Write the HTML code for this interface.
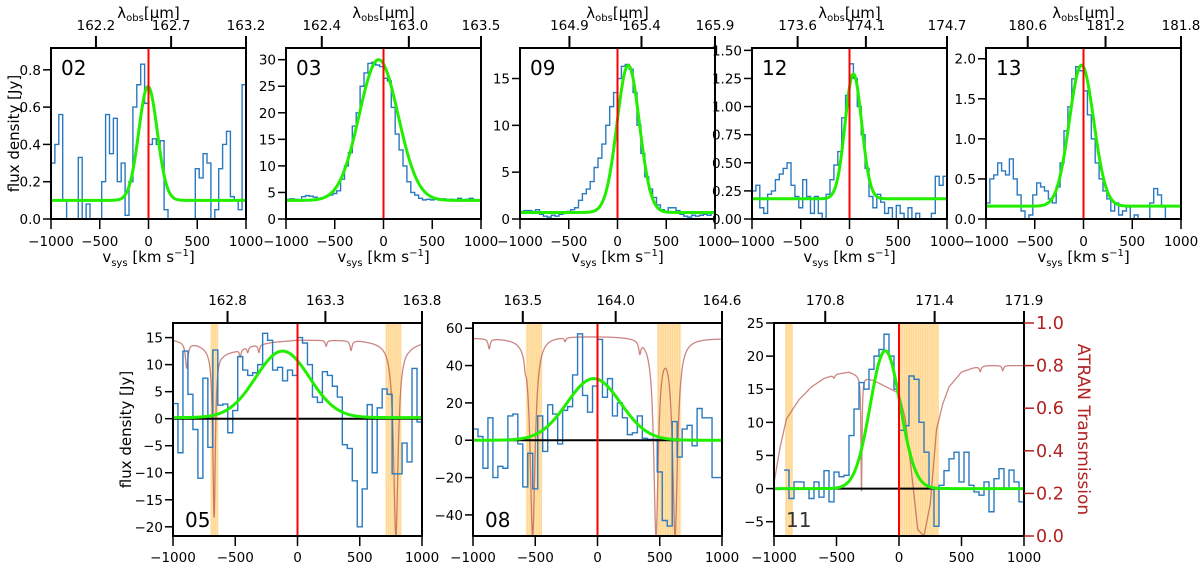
<!DOCTYPE html>
<html><head><meta charset="utf-8"><title>Spectra</title>
<style>
html,body{margin:0;padding:0;background:#fff;}
svg{display:block;font-family:"DejaVu Sans","Liberation Sans",sans-serif;}
</style></head>
<body>
<svg id="fig" width="1200" height="566" viewBox="0 0 1200 566" xmlns="http://www.w3.org/2000/svg"></svg>
<script>
// ---------- data ----------
const binWidth = 40;
const hist02 = [0.3,0.4,0.56,0.1,0,0,0,0.33,0,0.08,0,0,0,0.2,0.56,0.35,0.54,0.2,0.3,0.02,0.2,0.6,0.72,0.83,0.62,0.4,0.43,0.4,0.42,0.05,0,0,0,0,0,0,0,0.27,0.22,0.35,0.3,0,0.05,0.27,0.4,0.47,0.12,0.1,0.05,0.72];
const hist03 = [3.7,3.8,3.7,3.6,4.2,4.4,4.3,4.1,3.9,4.0,4.3,4.5,4.8,5.3,7.5,10,12.5,17.5,20,25,27.5,29.3,29.5,29,28.7,26.5,26,21,16,13,10,7,5,4.5,3.9,3.6,3.7,3.6,3.7,3.6,3.8,3.6,3.7,3.6,3.9,3.6,3.7,3.9,3.6,3.6];
const hist09 = [0.8,0.9,0.9,0.8,1.0,0.5,0.3,0.2,0.4,0.3,0.5,0.6,0.8,1.0,1.2,2,2.7,3.2,4,5.5,6.5,8,10,12,13.5,15,16.3,16.5,16,13.5,10,7,4.5,3.2,2.3,1.5,1.0,0.8,1.2,1.2,0.9,0.5,0.3,0.2,0.4,0.3,0.4,0.5,0.4,0.6];
const hist12 = [0.25,0.3,0.1,0.05,0.22,0.25,0.35,0.4,0.45,0.5,0.3,0.2,0.1,0.35,0.2,0.05,0.2,0.05,0,0.22,0.35,0.48,0.6,0.9,1.1,1.38,1.25,1.0,0.75,0.45,0.2,0.1,0.22,0.15,0.05,0.1,0,0.12,0.05,0,0.1,0,0.05,0,0,0,0.05,0.38,0.3,0.38];
const hist13 = [0.2,0.5,0.55,0.7,0.6,0.55,0.75,0.5,0.3,0.1,0,0.05,0.3,0.45,0.4,0.35,0.25,0.2,0.4,0.7,1.1,1.4,1.75,1.9,1.85,1.6,1.3,1.0,0.7,0.5,0.35,0.25,0.1,0.2,0.05,0.1,0.15,0,0.05,0,0,0,0.2,0.38,0.3,0.15,0,null,null,null];
const hist05 = [2.8,-6.3,12.5,4.5,-2,-11,7.5,-5.3,12.7,2.5,2.7,-2.6,1.5,11.5,9,8,8.5,10,15.8,14.5,9,9.5,7,9,8,15,14,10,4,3,8.7,8,6,4,-4.8,-5.5,-11.5,-20,-13,2.6,-10,2,5.5,4.5,-10.2,-10.2,-4.5,-8,9.3,-0.6];
const hist08 = [6,2,-15,12,-20,-14,-15,13,14,-2,-25,-7,-26,13,-6,19,14,-2,16,18,35,57,24,15,29,54,23,33,13,20,12,3,4,13,1,0.5,0.5,-17,-43,-46,10,-9,6,8,-3,17,12,12,-20,-20];
const hist11 = [null,null,2.8,-1.5,1,1,0,-1.5,1,-1.3,2.7,-2,2.5,1.8,2,8,12,16,15,18,20,21,23.3,20,15,8.8,9.5,17,16.5,10,5.5,0,-5.7,0.5,2.7,4.5,5.5,1,5.5,0.5,-0.5,-1,1,-3.5,1.5,3,0,2.8,1,-2];

// gaussian fits: [baseline, amplitude, centre, sigma]
const fit02 = [0.1, 0.61, -5, 95];
const fit03 = [3.5, 26.5, -50, 200];
const fit09 = [0.7, 15.7, 110, 115];
const fit12 = [0.18, 1.11, 40, 85];
const fit13 = [0.16, 1.76, -20, 125];
const fit05 = [0.2, 12.3, -120, 215];
const fit08 = [0, 33, -30, 215];
const fit11 = [0, 20.8, -110, 120];

// ATRAN transmission: continuum sample points and absorption dips
const trans05V = [-1000,-900,-800,-700,-600,-500,-400,-300,-200,0,500,700,900,1000];
const trans05T = [0.92,0.91,0.9,0.88,0.86,0.87,0.89,0.9,0.91,0.92,0.92,0.91,0.9,0.91];
const dip05C = [-890,-670,-460,-400,-310,230,430,790];
const dip05D = [0.13,0.9,0.04,0.03,0.04,0.03,0.05,1.0];
const dip05W = [12,12,8,8,8,8,10,22];
const trans08V = [-1000,-600,-400,0,300,1000];
const trans08T = [0.93,0.93,0.94,0.94,0.94,0.93];
const dip08C = [-870,-521,-580,-260,340,470,623];
const dip08D = [0.05,1.0,0.05,0.02,0.06,1.0,1.0];
const dip08W = [10,24,8,8,10,22,24];
const trans11V = [-1000,-950,-900,-800,-700,-600,-500,-400,-200,-100,0,50,100,150,200,250,300,350,400,500,600,700,1000];
const trans11T = [0.25,0.42,0.55,0.64,0.7,0.74,0.76,0.77,0.73,0.7,0.67,0.55,0.3,0.03,0.0,0.15,0.5,0.62,0.7,0.77,0.79,0.8,0.8];
const dip11C = [-300,-520,650,830];
const dip11D = [0.72,0.02,0.03,0.03];
const dip11W = [5,8,8,8];

// orange shaded channels [start,end] in km/s
const bands05 = [[-700,-635],[705,835]];
const bands08 = [[-575,-445],[478,672]];
const bands11 = [[-912,-848],[5,320]];

// axis ticks
const yTicks02 = [0,0.2,0.4,0.6,0.8];
const yTicks03 = [0,5,10,15,20,25,30];
const yTicks09 = [0,5,10,15];
const yTicks12 = [0,0.25,0.5,0.75,1.0,1.25,1.5];
const yTicks13 = [0,0.5,1.0,1.5,2.0];
const yTicks05 = [-20,-15,-10,-5,0,5,10,15];
const yTicks08 = [-40,-20,0,20,40,60];
const yTicks11 = [-5,0,5,10,15,20,25];
const xTicks = [-1000,-500,0,500,1000];
const transTicks = [0,0.2,0.4,0.6,0.8,1.0];
// top wavelength axis: tick velocity and label
const top02V = [-539,232,1000]; const top02L = ['162.2','162.7','163.2'];
const top03V = [-633,260,1000]; const top03L = ['162.4','163.0','163.5'];
const top09V = [-493,246,1000]; const top09L = ['164.9','165.4','165.9'];
const top12V = [-532,168,1000]; const top12L = ['173.6','174.1','174.7'];
const top13V = [-572,226,1000]; const top13L = ['180.6','181.2','181.8'];
const top05V = [-562,224,1000]; const top05L = ['162.8','163.3','163.8'];
const top08V = [-600,146,1000]; const top08L = ['163.5','164.0','164.6'];
const top11V = [-590,285,1000]; const top11L = ['170.8','171.4','171.9'];

// ---------- drawing ----------
const NS = 'http://www.w3.org/2000/svg';
const svg = document.getElementById('fig');
function mk(tag, attrs, parent){
  const e = document.createElementNS(NS, tag);
  for (const k in attrs) e.setAttribute(k, attrs[k]);
  (parent || svg).appendChild(e);
  return e;
}
function fmt(v, d){ const s = Math.abs(v).toFixed(d); return (v < 0 ? '\u2212' : '') + s; }
function interp(xs, ys, x){
  if (x <= xs[0]) return ys[0];
  for (let i = 1; i < xs.length; i++) if (x <= xs[i]) { const t = (x - xs[i-1]) / (xs[i] - xs[i-1]); return ys[i-1] + t * (ys[i] - ys[i-1]); }
  return ys[ys.length-1];
}

const panels = [
  {id:'02', x0:51, x1:246, y0:48, y1:219, ymin:0, ymax:0.917, yt:yTicks02, dec:1, hist:hist02, fit:fit02, tv:top02V, tl:top02L, top:true, ylab:true},
  {id:'03', x0:286, x1:481, y0:48, y1:219, ymin:0, ymax:32.2, yt:yTicks03, dec:0, hist:hist03, fit:fit03, tv:top03V, tl:top03L, top:true},
  {id:'09', x0:520, x1:715, y0:48, y1:219, ymin:0, ymax:18.26, yt:yTicks09, dec:0, hist:hist09, fit:fit09, tv:top09V, tl:top09L, top:true},
  {id:'12', x0:752, x1:947, y0:48, y1:219, ymin:0, ymax:1.521, yt:yTicks12, dec:2, hist:hist12, fit:fit12, tv:top12V, tl:top12L, top:true},
  {id:'13', x0:986, x1:1181, y0:48, y1:219, ymin:0, ymax:2.134, yt:yTicks13, dec:1, hist:hist13, fit:fit13, tv:top13V, tl:top13L, top:true},
  {id:'05', x0:173, x1:422, y0:323, y1:536, ymin:-21.7, ymax:17.7, yt:yTicks05, dec:0, hist:hist05, fit:fit05, tv:top05V, tl:top05L, top:false, ylab:true, tV:trans05V, tT:trans05T, dC:dip05C, dD:dip05D, dW:dip05W, bands:bands05},
  {id:'08', x0:473, x1:722, y0:323, y1:536, ymin:-51.3, ymax:62.8, yt:yTicks08, dec:0, hist:hist08, fit:fit08, tv:top08V, tl:top08L, top:false, tV:trans08V, tT:trans08T, dC:dip08C, dD:dip08D, dW:dip08W, bands:bands08},
  {id:'11', x0:774, x1:1024, y0:323, y1:536, ymin:-7.16, ymax:25, yt:yTicks11, dec:0, hist:hist11, fit:fit11, tv:top11V, tl:top11L, top:false, right:true, tV:trans11V, tT:trans11T, dC:dip11C, dD:dip11D, dW:dip11W, bands:bands11}
];

const defs = mk('defs', {});
panels.forEach(p => {
  const X = v => p.x0 + (v + 1000) / 2000 * (p.x1 - p.x0);
  const Y = f => p.y1 - (f - p.ymin) / (p.ymax - p.ymin) * (p.y1 - p.y0);
  const YT = t => p.y1 - t * (p.y1 - p.y0);
  const g = mk('g', {});
  
  
  const cp = mk('clipPath', {id:'clip' + p.id}, defs);
  mk('rect', {x:p.x0, y:p.y0, width:p.x1-p.x0, height:p.y1-p.y0}, cp);
  const plot = mk('g', {'clip-path':'url(#clip' + p.id + ')'}, g);

  // shaded bands
  if (p.bands) p.bands.forEach(b => {
    const r = mk('rect', {x:X(b[0]), y:p.y0, width:X(b[1])-X(b[0]), height:p.y1-p.y0, fill:'#ffe2ad', opacity:0.9}, plot);
    
    
    for (let v = b[0] + 12; v < b[1]; v += 14) {
      mk('line', {x1:X(v), x2:X(v), y1:p.y0, y2:p.y1, stroke:'#ffc86a', 'stroke-width':1, opacity:0.5}, plot);
    }
  });

  // transmission
  if (p.tV) {
    let d = '';
    for (let v = -1000; v <= 1000; v += 1) {
      let t = interp(p.tV, p.tT, v);
      for (let k = 0; k < p.dC.length; k++) t *= 1 - p.dD[k] / (1 + Math.pow((v - p.dC[k]) / p.dW[k], 2));
      d += (v === -1000 ? 'M' : 'L') + X(v).toFixed(2) + ',' + YT(t).toFixed(2);
    }
    const tr = mk('path', {d:d, fill:'none', stroke:'#b5524f', 'stroke-width':1.3, opacity:0.7}, plot);
    
    
  }

  // histogram
  let hd = '', pen = false;
  p.hist.forEach((val, i) => {
    if (val === null) { pen = false; return; }
    const a = X(-1000 + i * binWidth), b = X(-1000 + (i + 1) * binWidth), y = Y(val);
    if (!pen) { hd += 'M' + a.toFixed(2) + ',' + y.toFixed(2); pen = true; }
    else hd += 'L' + a.toFixed(2) + ',' + y.toFixed(2);
    hd += 'L' + b.toFixed(2) + ',' + y.toFixed(2);
  });
  const hp = mk('path', {d:hd, fill:'none', stroke:'#2a7abf', 'stroke-width':1.4}, plot);
  
  

  // zero line (bottom row)
  if (!p.top) {
    const zl = mk('line', {x1:p.x0, x2:p.x1, y1:Y(0), y2:Y(0), stroke:'#000', 'stroke-width':2}, plot);
    
    
  }

  // gaussian fit
  let gd = '';
  for (let v = -1000; v <= 1000; v += 4) {
    const f = p.fit[0] + p.fit[1] * Math.exp(-0.5 * Math.pow((v - p.fit[2]) / p.fit[3], 2));
    gd += (v === -1000 ? 'M' : 'L') + X(v).toFixed(2) + ',' + Y(f).toFixed(2);
  }
  const gp = mk('path', {d:gd, fill:'none', stroke:'#22ee00', 'stroke-width':3}, plot);
  
  

  // systemic velocity line
  const rl = mk('line', {x1:X(0), x2:X(0), y1:p.y0, y2:p.y1, stroke:'#ff0000', 'stroke-width':2}, plot);
  
  

  // frame
  const fr = mk('rect', {x:p.x0, y:p.y0, width:p.x1-p.x0, height:p.y1-p.y0, fill:'none', stroke:'#000', 'stroke-width':2}, g);
  
  

  // panel label
  const lb = mk('text', {x:p.x0 + (p.top ? 10 : 12), y:p.top ? p.y0 + 27 : p.y1 - 9, 'font-size':20, fill:p.id === '11' ? '#333' : '#000'}, g);
  lb.textContent = p.id;
  
  

  // bottom x ticks
  xTicks.forEach(v => {
    mk('line', {x1:X(v), x2:X(v), y1:p.y1, y2:p.y1 + 10, stroke:'#000', 'stroke-width':1.5}, g);
    const t = mk('text', {x:X(v), y:p.top ? p.y1 + 27 : p.y1 + 26, 'font-size':13.5, 'text-anchor':'middle'}, g);
    t.textContent = fmt(v, 0);
    
    
  });
  // y ticks
  p.yt.forEach(v => {
    mk('line', {x1:p.x0 - 8, x2:p.x0, y1:Y(v), y2:Y(v), stroke:'#000', 'stroke-width':1.5}, g);
    const t = mk('text', {x:p.x0 - 10, y:Y(v) + 5, 'font-size':13.5, 'text-anchor':'end'}, g);
    t.textContent = fmt(v, p.dec);
    
    
  });
  // top wavelength ticks
  p.tv.forEach((v, i) => {
    mk('line', {x1:X(v), x2:X(v), y1:p.y0 - 12, y2:p.y0, stroke:'#000', 'stroke-width':2}, g);
    const t = mk('text', {x:X(v), y:p.y0 - 18, 'font-size':13.5, 'text-anchor':'middle'}, g);
    t.textContent = p.tl[i];
    
    
  });
  if (p.top) {
    const xm = (p.x0 + p.x1) / 2;
    const wl = mk('text', {x:xm, y:18, 'font-size':15, 'text-anchor':'middle'}, g);
    wl.innerHTML = 'λ<tspan font-size="10" dy="3">obs</tspan><tspan dy="-3">[μm]</tspan>';
    
    
    const xl = mk('text', {x:xm, y:262, 'font-size':15, 'text-anchor':'middle'}, g);
    xl.innerHTML = 'v<tspan font-size="10" dy="4">sys</tspan><tspan dy="-4"> [km s</tspan><tspan font-size="10" dy="-6">−1</tspan><tspan dy="6">]</tspan>';
    
    
  }
  if (p.ylab) {
    const cx = p.top ? 19 : 131, cy = (p.y0 + p.y1) / 2;
    const yl = mk('text', {x:cx, y:cy, 'font-size':15, 'text-anchor':'middle', transform:'rotate(-90 ' + cx + ' ' + cy + ')'}, g);
    yl.textContent = 'flux density [Jy]';
    
    
  }
  if (p.right) {
    transTicks.forEach(t => {
      mk('line', {x1:p.x1, x2:p.x1 + 10, y1:YT(t), y2:YT(t), stroke:'#b22222', 'stroke-width':1.5}, g);
      const tt = mk('text', {x:p.x1 + 12, y:YT(t) + 6, 'font-size':17.5, fill:'#b22222'}, g);
      tt.textContent = t.toFixed(1);
      
      
    });
    const cx = 1078, cy = (p.y0 + p.y1) / 2;
    const rt = mk('text', {x:cx, y:cy, 'font-size':17, fill:'#b22222', 'text-anchor':'middle', transform:'rotate(90 ' + cx + ' ' + cy + ')'}, g);
    rt.textContent = 'ATRAN Transmission';
    
    
  }
});
</script>
</body></html>
